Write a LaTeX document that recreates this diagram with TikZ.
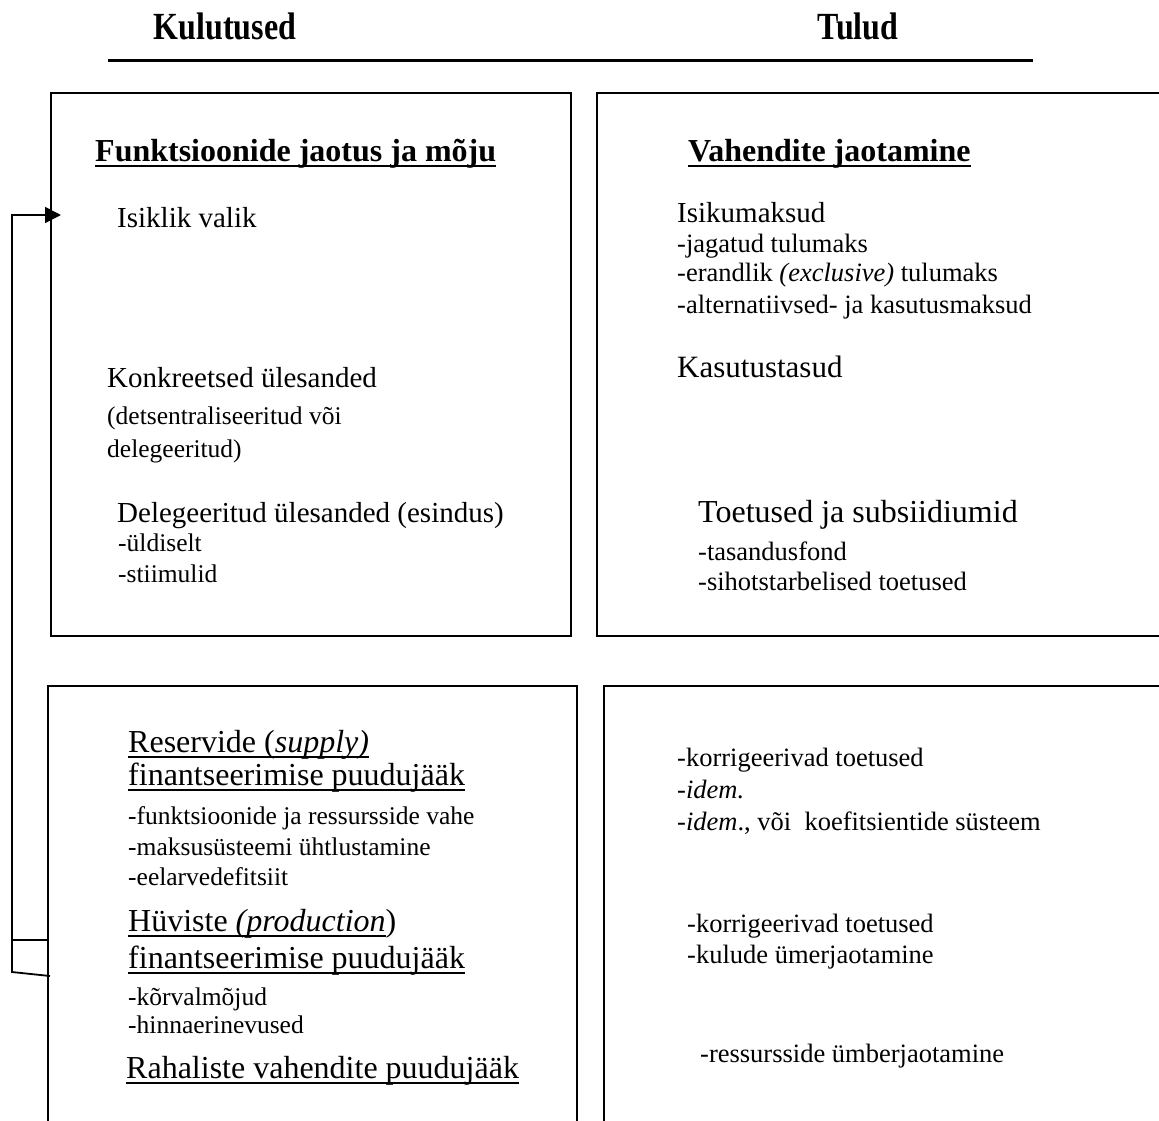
\documentclass[tikz,border=0pt]{standalone}
\usepackage{fontspec}
\setmainfont{Liberation Serif}
\usetikzlibrary{arrows.meta}
\newcommand\myul[1]{\setbox0\hbox{#1}\rlap{\rule[-0.16em]{\wd0}{0.055em}}\box0}
\tikzset{
  frame/.style={draw, line width=1.8pt},
  txt/.style={anchor=west, inner sep=0pt, text height=0.7em, text depth=0.2em, yshift=-8pt},
  big/.style={txt, font=\fontsize{29}{34}\selectfont},
  small/.style={txt, font=\fontsize{25.5}{30}\selectfont},
  rsmall/.style={txt, font=\fontsize{26.5}{31}\selectfont},
  head/.style={txt, font=\fontsize{32}{38}\selectfont\bfseries},
  sub/.style={txt, font=\fontsize{32}{38}\selectfont},
  link/.style={line width=1.8pt},
}
\begin{document}
\begin{tikzpicture}[x=1pt,y=-1pt]
\useasboundingbox (0,0) rectangle (1159,1120);
\clip (0,0) rectangle (1159,1120);
% top headers
\node[head, anchor=center] (kul) at (225,29) {\scalebox{1}[1.2]{Kulutused}};
\node[head, anchor=center] (tul) at (858,29) {\scalebox{1}[1.2]{Tulud}};
\coordinate (hl) at (108,60);
\coordinate (hr) at (1033,60);
\draw[line width=3pt] (hl) -- (hr);
% boxes
\node[frame, anchor=north west, minimum width=520pt, minimum height=543pt, inner sep=0pt] (tlbox) at (50,92) {};
\node[frame, anchor=north west, minimum width=580pt, minimum height=543pt, inner sep=0pt] (trbox) at (596,92) {};
\node[frame, anchor=north west, minimum width=529pt, minimum height=460pt, inner sep=0pt] (blbox) at (47,685) {};
\node[frame, anchor=north west, minimum width=580pt, minimum height=460pt, inner sep=0pt] (brbox) at (603,685) {};
% top-left
\node[head] (h1) at (95,151) {\myul{Funktsioonide jaotus ja mõju}};
\node[big] (isik) at (117,217) {Isiklik valik};
\node[big] (konk) at (107,377) {Konkreetsed ülesanded};
\node[small] (dets) at (107,414) {(detsentraliseeritud või};
\node[small] (dele) at (107,447) {delegeeritud)};
\node[big] (deleg) at (117,512) {Delegeeritud ülesanded (esindus)};
\node[small] (yld) at (118,541) {-üldiselt};
\node[small] (stim) at (118,572) {-stiimulid};
% top-right
\node[head] (h2) at (688,151) {\myul{Vahendite jaotamine}};
\node[big] (isikm) at (677,212) {Isikumaksud};
\node[rsmall] (jag) at (677,242) {-jagatud tulumaks};
\node[rsmall] (eran) at (677,271) {-erandlik \textit{(exclusive)} tulumaks};
\node[rsmall] (alt) at (677,303) {-alternatiivsed- ja kasutusmaksud};
\node[txt, font=\fontsize{31}{36}\selectfont] (kas) at (677,367) {Kasutustasud};
\node[sub] (toe) at (698,512) {Toetused ja subsiidiumid};
\node[rsmall] (tas) at (698,550) {-tasandusfond};
\node[rsmall] (sih) at (698,580) {-sihotstarbelised toetused};
% bottom-left
\node[sub] (res) at (128,742) {\myul{Reservide (\textit{supply)}}};
\node[sub] (fin1) at (128,775) {\myul{finantseerimise puudujääk}};
\node[small] (fun) at (128,814) {-funktsioonide ja ressursside vahe};
\node[small] (mak) at (128,845) {-maksusüsteemi ühtlustamine};
\node[small] (eel) at (128,875) {-eelarvedefitsiit};
\node[sub] (huv) at (128,921) {\myul{Hüviste \textit{(production}})};
\node[sub] (fin2) at (128,958) {\myul{finantseerimise puudujääk}};
\node[small] (kor) at (128,995) {-kõrvalmõjud};
\node[small] (hin) at (128,1023) {-hinnaerinevused};
\node[sub] (rah) at (126,1068) {\myul{Rahaliste vahendite puudujääk}};
% bottom-right
\node[rsmall] (k1t) at (677,756) {-korrigeerivad toetused};
\node[rsmall] (id1) at (677,788) {-\textit{idem.}};
\node[rsmall] (id2) at (677,820) {-\textit{idem}., või\ \ koefitsientide süsteem};
\node[rsmall] (k2t) at (687,922) {-korrigeerivad toetused};
\node[rsmall] (kul2) at (687,953) {-kulude ümerjaotamine};
\node[rsmall] (ress) at (700,1052) {-ressursside ümberjaotamine};
% connector
\coordinate (tip) at (61,215);
\coordinate (k1) at (12,940);
\coordinate (b1) at (48,940);
\coordinate (k2) at (12,972);
\coordinate (b2) at (50,976);
\draw[link, -{Triangle[length=16pt,width=16pt]}] (b1) -- (k1) |- (tip);
\draw[link] (k1) -- (k2) -- (b2);
\end{tikzpicture}
\end{document}
